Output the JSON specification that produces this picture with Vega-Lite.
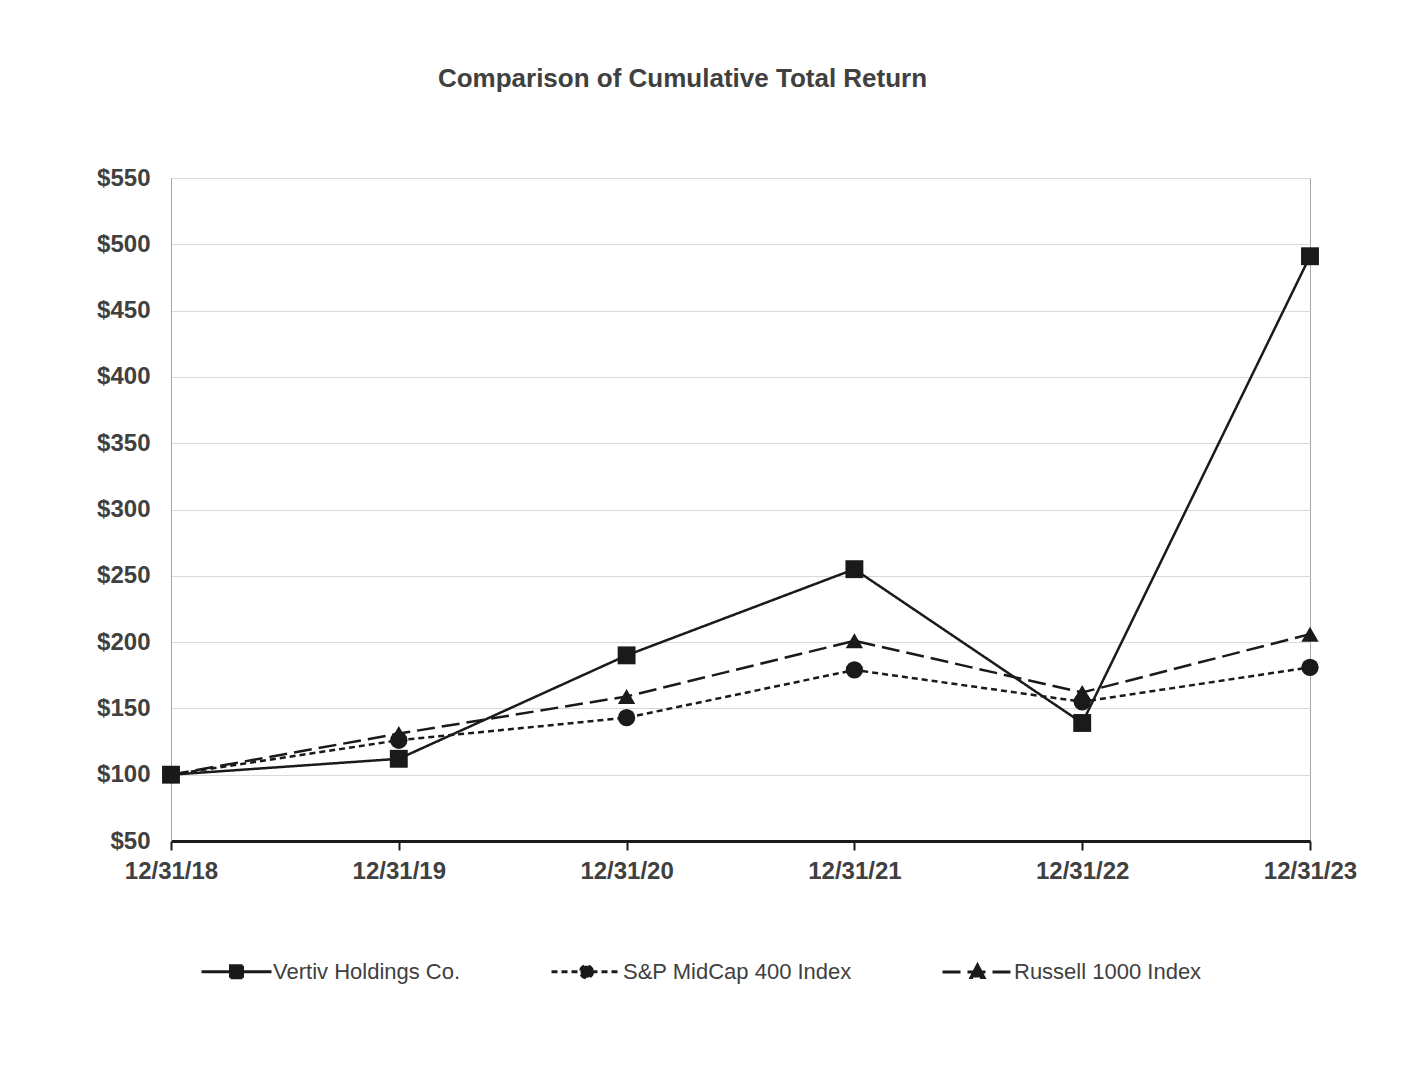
{
  "$schema": "https://vega.github.io/schema/vega-lite/v6.json",
  "width": 1139,
  "height": 663,
  "autosize": {"type": "none"},
  "padding": {"left": 171, "top": 178, "right": 114, "bottom": 224},
  "background": "white",
  "title": {
    "text": "Comparison of Cumulative Total Return",
    "font": "Liberation Sans",
    "fontSize": 26,
    "fontWeight": "bold",
    "color": "#404040",
    "anchor": "middle",
    "dx": -58,
    "offset": 74
  },
  "config": {
    "font": "Liberation Sans",
    "view": {"stroke": "#a6a6a6", "strokeWidth": 1}
  },
  "data": {
    "values": [
      {"date": "12/31/18", "series": "Vertiv Holdings Co.", "value": 100},
      {"date": "12/31/19", "series": "Vertiv Holdings Co.", "value": 112},
      {"date": "12/31/20", "series": "Vertiv Holdings Co.", "value": 190},
      {"date": "12/31/21", "series": "Vertiv Holdings Co.", "value": 255},
      {"date": "12/31/22", "series": "Vertiv Holdings Co.", "value": 139},
      {"date": "12/31/23", "series": "Vertiv Holdings Co.", "value": 491},
      {"date": "12/31/18", "series": "S&P MidCap 400 Index", "value": 100},
      {"date": "12/31/19", "series": "S&P MidCap 400 Index", "value": 126},
      {"date": "12/31/20", "series": "S&P MidCap 400 Index", "value": 143},
      {"date": "12/31/21", "series": "S&P MidCap 400 Index", "value": 179},
      {"date": "12/31/22", "series": "S&P MidCap 400 Index", "value": 155},
      {"date": "12/31/23", "series": "S&P MidCap 400 Index", "value": 181},
      {"date": "12/31/18", "series": "Russell 1000 Index", "value": 100},
      {"date": "12/31/19", "series": "Russell 1000 Index", "value": 131},
      {"date": "12/31/20", "series": "Russell 1000 Index", "value": 159},
      {"date": "12/31/21", "series": "Russell 1000 Index", "value": 201},
      {"date": "12/31/22", "series": "Russell 1000 Index", "value": 162},
      {"date": "12/31/23", "series": "Russell 1000 Index", "value": 206}
    ]
  },
  "encoding": {
    "x": {
      "field": "date",
      "type": "ordinal",
      "sort": null,
      "scale": {"type": "point", "padding": 0},
      "axis": {
        "title": null,
        "labelAngle": 0,
        "labelFont": "Liberation Sans",
        "labelFontSize": 24,
        "labelFontWeight": "bold",
        "labelColor": "#404040",
        "labelPadding": 9,
        "domainColor": "#1a1a1a",
        "domainWidth": 3,
        "tickColor": "#1a1a1a",
        "tickWidth": 2,
        "tickSize": 9,
        "grid": false
      }
    },
    "y": {
      "field": "value",
      "type": "quantitative",
      "scale": {"domain": [50, 550], "nice": false, "zero": false},
      "axis": {
        "title": null,
        "values": [50, 100, 150, 200, 250, 300, 350, 400, 450, 500, 550],
        "format": "$.0f",
        "labelFont": "Liberation Sans",
        "labelFontSize": 24,
        "labelFontWeight": "bold",
        "labelColor": "#404040",
        "labelPadding": 21,
        "ticks": false,
        "domainColor": "#a6a6a6",
        "domainWidth": 1,
        "gridColor": "#d9d9d9",
        "gridWidth": 1
      }
    }
  },
  "layer": [
    {
      "mark": {"type": "line", "strokeWidth": 2.5, "color": "#1a1a1a"},
      "encoding": {
        "strokeDash": {
          "field": "series",
          "type": "nominal",
          "scale": {
            "domain": ["Vertiv Holdings Co.", "S&P MidCap 400 Index", "Russell 1000 Index"],
            "range": [[1, 0], [6, 4], [18, 7]]
          },
          "legend": {
            "title": null,
            "orient": "none",
            "direction": "horizontal",
            "legendX": 29,
            "legendY": 782,
            "padding": 0,
            "symbolSize": 400,
            "symbolStrokeWidth": 3,
            "symbolStrokeColor": "#1a1a1a",
            "symbolFillColor": "#1a1a1a",
            "labelOffset": 50,
            "labelLimit": 0,
            "columnPadding": 84,
            "labelFont": "Liberation Sans",
            "labelFontSize": 22,
            "labelColor": "#404040",
            "encode": {
              "symbols": {
                "update": {
                  "shape": {"signal": "datum.value === 'Vertiv Holdings Co.' ? 'M-1,0H6M1.9,-0.6H3.1V0.6H1.9Z' : datum.value === 'S&P MidCap 400 Index' ? 'M-1,0H6M3.1,0A0.6,0.6 0 1,1 1.9,0A0.6,0.6 0 1,1 3.1,0Z' : 'M-1,0H6M2.5,-0.7L3.15,0.55H1.85Z'"},
                  "fill": {"value": "#1a1a1a"},
                  "fillOpacity": {"value": 1},
                  "stroke": {"value": "#1a1a1a"},
                  "strokeWidth": {"value": 3}
                }
              }
            }
          }
        }
      }
    },
    {
      "transform": [{"filter": "datum.series === 'Vertiv Holdings Co.'"}],
      "mark": {"type": "point", "shape": "square", "filled": true, "opacity": 1, "color": "#1a1a1a", "size": 320}
    },
    {
      "transform": [{"filter": "datum.series === 'S&P MidCap 400 Index'"}],
      "mark": {"type": "point", "shape": "circle", "filled": true, "opacity": 1, "color": "#1a1a1a", "size": 300}
    },
    {
      "transform": [{"filter": "datum.series === 'Russell 1000 Index'"}],
      "mark": {"type": "point", "shape": "triangle-up", "filled": true, "opacity": 1, "color": "#1a1a1a", "size": 300}
    }
  ]
}
